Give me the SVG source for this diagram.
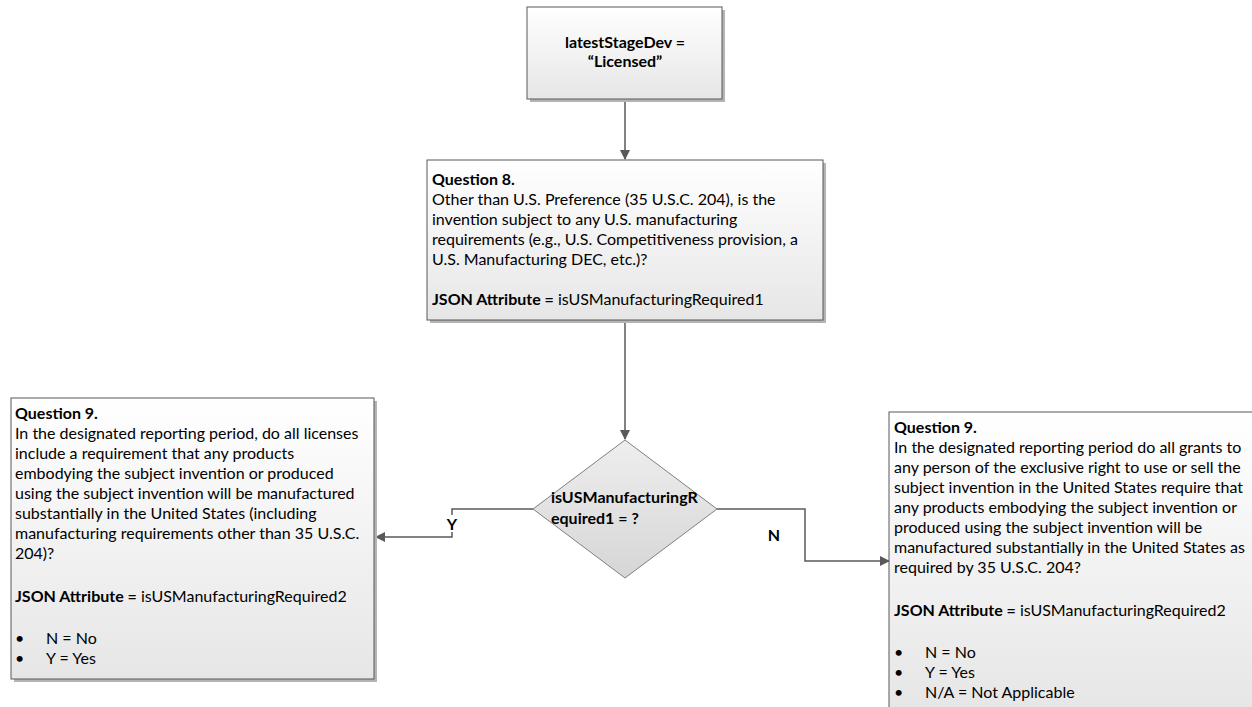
<svg xmlns="http://www.w3.org/2000/svg" width="1252" height="707" viewBox="0 0 1252 707">
<defs>
<linearGradient id="gBox" x1="0" y1="0" x2="0" y2="1"><stop offset="0" stop-color="#ffffff"/><stop offset="1" stop-color="#e6e6e6"/></linearGradient>
<linearGradient id="gDia" x1="0" y1="0" x2="0" y2="1"><stop offset="0" stop-color="#eeeeee"/><stop offset="1" stop-color="#d6d6d6"/></linearGradient>
<marker id="arr" markerWidth="10" markerHeight="10" refX="9" refY="5" orient="auto" markerUnits="userSpaceOnUse"><path d="M0,0 L10,5 L0,10 Z" fill="#595959"/></marker>
<style>
.box{fill:url(#gBox);stroke:#595959;stroke-width:1}
.dia{fill:url(#gDia);stroke:#7f7f7f;stroke-width:1}
.sh{fill:#b4b4b4}
.t{font-family:Lato,"Liberation Sans",sans-serif;font-size:16px;fill:#000}
.b{font-weight:bold}
.con{fill:none;stroke:#595959;stroke-width:1.5}
.lbl{font-family:Lato,"Liberation Sans",sans-serif;font-size:16px;font-weight:bold;fill:#000}
</style>
</defs>
<rect width="1252" height="707" fill="#ffffff"/>
<g id="connectors">
<path class="con" d="M625,99 V159" marker-end="url(#arr)"/>
<path class="con" d="M625,320 V439" marker-end="url(#arr)"/>
<path class="con" d="M533,509 H452 V537 H376" marker-end="url(#arr)"/>
<path class="con" d="M717,509 H805 V561 H889" marker-end="url(#arr)"/>
<rect x="446" y="515" width="12" height="17" fill="#ffffff"/>
<text class="lbl" x="452" y="530" text-anchor="middle">Y</text>
<text class="lbl" x="774" y="541" text-anchor="middle">N</text>
</g>
<g id="start">
<rect class="sh" x="530" y="10" width="195" height="92"/>
<rect class="box" x="527" y="7" width="195" height="92"/>
<text class="t b" x="625" y="48" text-anchor="middle">latestStageDev =</text>
<text class="t b" x="625" y="67" text-anchor="middle">“Licensed”</text>
</g>
<g id="q8">
<rect class="sh" x="430" y="163" width="396" height="160"/>
<rect class="box" x="427" y="160" width="396" height="160"/>
<text class="t"><tspan class="b" x="432" y="185">Question 8.</tspan><tspan x="432" y="205">Other than U.S. Preference (35 U.S.C. 204), is the</tspan><tspan x="432" y="225">invention subject to any U.S. manufacturing</tspan><tspan x="432" y="245">requirements (e.g., U.S. Competitiveness provision, a</tspan><tspan x="432" y="265">U.S. Manufacturing DEC, etc.)?</tspan><tspan x="432" y="305"><tspan class="b">JSON Attribute =</tspan> isUSManufacturingRequired1</tspan></text>
</g>
<g id="decision">
<polygon class="dia" points="625,440 717,509 625,578 533,509"/>
<text class="t b" x="551" y="503">isUSManufacturingR</text>
<text class="t b" x="551" y="524">equired1 = ?</text>
</g>
<g id="q9yes">
<rect class="sh" x="14" y="401" width="363" height="281"/>
<rect class="box" x="11" y="398" width="363" height="281"/>
<text class="t"><tspan class="b" x="15" y="419">Question 9.</tspan><tspan x="15" y="439">In the designated reporting period, do all licenses</tspan><tspan x="15" y="459">include a requirement that any products</tspan><tspan x="15" y="479">embodying the subject invention or produced</tspan><tspan x="15" y="499">using the subject invention will be manufactured</tspan><tspan x="15" y="519">substantially in the United States (including</tspan><tspan x="15" y="539">manufacturing requirements other than 35 U.S.C.</tspan><tspan x="15" y="559">204)?</tspan><tspan x="15" y="602"><tspan class="b">JSON Attribute =</tspan> isUSManufacturingRequired2</tspan><tspan x="15" y="644">•</tspan><tspan x="46" y="644">N = No</tspan><tspan x="15" y="664">•</tspan><tspan x="46" y="664">Y = Yes</tspan></text>
</g>
<g id="q9no">
<rect class="sh" x="892" y="415" width="380" height="300"/>
<rect class="box" x="889" y="412" width="380" height="300"/>
<text class="t"><tspan class="b" x="894" y="433">Question 9.</tspan><tspan x="894" y="453">In the designated reporting period do all grants to</tspan><tspan x="894" y="473">any person of the exclusive right to use or sell the</tspan><tspan x="894" y="493">subject invention in the United States require that</tspan><tspan x="894" y="513">any products embodying the subject invention or</tspan><tspan x="894" y="533">produced using the subject invention will be</tspan><tspan x="894" y="553">manufactured substantially in the United States as</tspan><tspan x="894" y="573">required by 35 U.S.C. 204?</tspan><tspan x="894" y="616"><tspan class="b">JSON Attribute =</tspan> isUSManufacturingRequired2</tspan><tspan x="894" y="658">•</tspan><tspan x="925" y="658">N = No</tspan><tspan x="894" y="678">•</tspan><tspan x="925" y="678">Y = Yes</tspan><tspan x="894" y="698">•</tspan><tspan x="925" y="698">N/A = Not Applicable</tspan></text>
</g>
</svg>
